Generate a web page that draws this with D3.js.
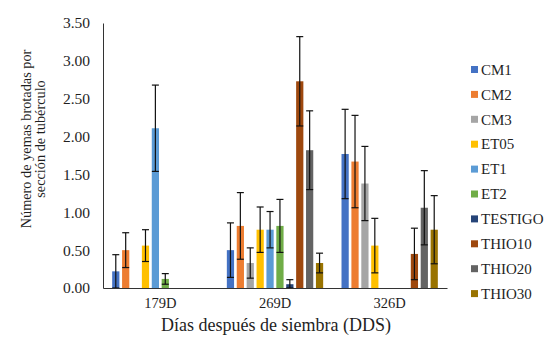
<!DOCTYPE html>
<html>
<head>
<meta charset="utf-8">
<script src="https://cdn.jsdelivr.net/npm/d3@7"></script>
<style>
  body { margin: 0; background: #fff; }
</style>
</head>
<body>
<svg id="chart" width="550" height="349"></svg>
<script>
// data
const categories = ["179D", "269D", "326D"]
const series = ["CM1", "CM2", "CM3", "ET05", "ET1", "ET2", "TESTIGO", "THIO10", "THIO20", "THIO30"]
const colors = ["#4472C4", "#ED7D31", "#A5A5A5", "#FFC000", "#5B9BD5", "#70AD47", "#264478", "#9E480E", "#636363", "#997300"]

// one array per category, in series order
const values179 = [0.22, 0.50, 0, 0.56, 2.11, 0.12, 0, 0, 0, 0]
const values269 = [0.50, 0.82, 0.33, 0.77, 0.77, 0.82, 0.05, 2.73, 1.82, 0.33]
const values326 = [1.77, 1.67, 1.38, 0.56, 0, 0, 0, 0.45, 1.06, 0.77]
const errors179 = [0.22, 0.23, 0, 0.21, 0.57, 0.07, 0, 0, 0, 0]
const errors269 = [0.36, 0.44, 0.20, 0.30, 0.24, 0.35, 0.06, 0.59, 0.52, 0.13]
const errors326 = [0.59, 0.61, 0.49, 0.36, 0, 0, 0, 0.34, 0.49, 0.45]
const yTicks = [0, 0.5, 1, 1.5, 2, 2.5, 3, 3.5]

const allValues = [values179, values269, values326]
const allErrors = [errors179, errors269, errors326]

const FONT = "'Liberation Serif', 'Times New Roman', serif"
const TEXT_COLOR = "#1f1f1f"

const svg = d3.select("#chart")
    .style("font-family", FONT)

const plotLeft = 103, plotRight = 447, plotTop = 23, plotBottom = 288

const x0 = d3.scaleBand()
    .domain(categories)
    .range([plotLeft, plotRight])
    .paddingInner(0.16)
    .paddingOuter(0.08)

const x1 = d3.scaleBand()
    .domain(series)
    .range([0, x0.bandwidth()])
    .paddingInner(0.27)
    .paddingOuter(0)

const y = d3.scaleLinear()
    .domain([0, 3.5])
    .range([plotBottom, plotTop])

const color = d3.scaleOrdinal().domain(series).range(colors)

const rows = []
categories.forEach((c, i) => {
    series.forEach((s, j) => {
        rows.push({ cat: c, name: s, value: allValues[i][j], err: allErrors[i][j] })
    })
})

// bars
svg.append("g")
    .selectAll("rect")
    .data(rows.filter(d => d.value > 0))
    .join("rect")
        .attr("x", d => x0(d.cat) + x1(d.name))
        .attr("y", d => y(d.value))
        .attr("width", x1.bandwidth())
        .attr("height", d => y(0) - y(d.value))
        .attr("fill", d => color(d.name))

// error bars
const errG = svg.append("g")
    .attr("stroke", "#111")
    .attr("stroke-width", 1.2)
const withErr = rows.filter(d => d.err > 0)
const cx = d => x0(d.cat) + x1(d.name) + x1.bandwidth() / 2
const lo = d => y(Math.max(0, d.value - d.err))
const hi = d => y(d.value + d.err)

errG.selectAll("line.stem")
    .data(withErr)
    .join("line")
        .attr("class", "stem")
        .attr("x1", cx).attr("x2", cx)
        .attr("y1", lo)
        .attr("y2", hi)

errG.selectAll("line.capTop")
    .data(withErr)
    .join("line")
        .attr("class", "capTop")
        .attr("x1", d => cx(d) - 3.5).attr("x2", d => cx(d) + 3.5)
        .attr("y1", hi).attr("y2", hi)

errG.selectAll("line.capBot")
    .data(withErr)
    .join("line")
        .attr("class", "capBot")
        .attr("x1", d => cx(d) - 3.5).attr("x2", d => cx(d) + 3.5)
        .attr("y1", lo).attr("y2", lo)

// y axis
const yAxis = svg.append("g")
    .attr("transform", `translate(${plotLeft},0)`)
    .call(d3.axisLeft(y).tickValues(yTicks).tickFormat(d3.format(".2f")).tickSize(0).tickPadding(13))
yAxis.attr("font-family", null).attr("font-size", null)
yAxis.select(".domain").attr("stroke", "#333")
yAxis.selectAll("text")
    .style("font-family", FONT)
    .style("font-size", "15.5px")
    .attr("fill", TEXT_COLOR)

// x axis
const xAxis = svg.append("g")
    .attr("transform", `translate(0,${plotBottom})`)
    .call(d3.axisBottom(x0).tickSize(0).tickPadding(10))
xAxis.attr("font-family", null).attr("font-size", null)
xAxis.select(".domain").attr("stroke", "#333")
xAxis.selectAll("text")
    .style("font-family", FONT)
    .style("font-size", "14.5px")
    .attr("fill", TEXT_COLOR)

// axis titles
svg.append("text")
    .attr("x", 276)
    .attr("y", 331)
    .attr("text-anchor", "middle")
    .attr("fill", TEXT_COLOR)
    .style("font-size", "18px")
    .text("Días después de siembra (DDS)")

const yt = svg.append("text")
    .attr("transform", "translate(0,139) rotate(-90)")
    .attr("text-anchor", "middle")
    .attr("fill", TEXT_COLOR)
    .style("font-size", "14.3px")
yt.append("tspan").attr("x", 0).attr("y", 31).text("Número de yemas brotadas por")
yt.append("tspan").attr("x", 0).attr("y", 45).text("sección de tubérculo")

// legend
const legend = svg.append("g")
    .selectAll("g")
    .data(series)
    .join("g")
        .attr("transform", (d, i) => `translate(471,${69.5 + i * 24.9})`)

legend.append("rect")
    .attr("x", 0)
    .attr("y", -3.5)
    .attr("width", 7)
    .attr("height", 7)
    .attr("fill", d => color(d))

legend.append("text")
    .attr("x", 10)
    .attr("y", 0)
    .attr("dy", "0.35em")
    .attr("fill", TEXT_COLOR)
    .style("font-size", "15px")
    .text(d => d)
</script>
</body>
</html>
